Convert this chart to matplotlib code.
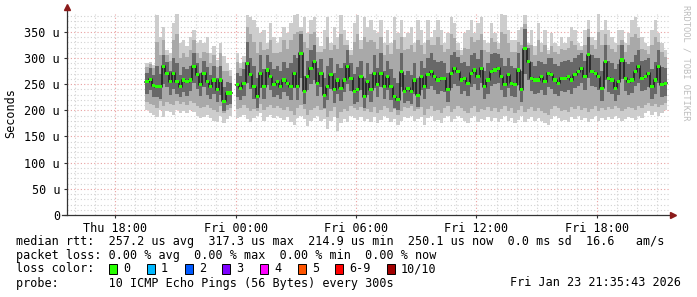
import numpy as np
import matplotlib
matplotlib.use("Agg")
import matplotlib.pyplot as plt
import matplotlib.patches as patches

# hours since Thu 00:00; one sample every 10 minutes
start_hour = 19.5
step_hours = 1 / 6.0
view_start = 15 + 35 / 60 + 43 / 3600
view_end = view_start + 30

# smoke bands in microseconds (sorted pings: min .. max), None = no data
ping_max = [290, 293, 287, 382, 341, 360, 315, 309, 366, 385, 328, 334, 322,
            341, 354, 328, 334, 328, 341, 309, 322, 296, 328, 303, 290, 277,
            None, 309, 290, 303, 382, 379, 373, 360, 347, 354, 328, 366, 341,
            328, 341, 360, 347, 366, 382, 385, 360, 379, 347, 373, 379, 341,
            322, 354, 379, 328, 360, 341, 382, 354, 334, 315, 366, 382, 334,
            379, 360, 373, 354, 347, 373, 328, 354, 328, 379, 347, 373, 341,
            347, 360, 328, 373, 354, 328, 373, 341, 354, 373, 354, 328, 347,
            379, 366, 328, 315, 347, 354, 373, 347, 366, 379, 334, 328, 366,
            347, 328, 385, 382, 354, 334, 334, 354, 360, 382, 328, 354, 322,
            366, 328, 354, 315, 347, 328, 322, 341, 328, 341, 360, 354, 328,
            322, 354, 373, 341, 334, 385, 354, 373, 354, 341, 328, 354, 354,
            328, 347, 373, 379, 360, 341, 328, 322, 354, 373, 347, 328, 315]
ping_hi = [282, 288, 280, 330, 305, 335, 305, 295, 335, 345, 300, 310, 302,
           315, 335, 310, 300, 312, 310, 290, 305, 282, 310, 275, 275, 265,
           None, 292, 280, 292, 360, 345, 330, 310, 330, 315, 318, 335, 310,
           310, 312, 335, 318, 335, 345, 350, 352, 330, 320, 345, 350, 312,
           312, 318, 340, 315, 325, 318, 345, 325, 325, 305, 330, 345, 318,
           340, 330, 335, 330, 318, 340, 305, 325, 308, 335, 318, 340, 315,
           318, 325, 312, 335, 325, 308, 335, 325, 325, 340, 325, 312, 318,
           345, 338, 315, 305, 320, 318, 340, 330, 335, 345, 315, 312, 338,
           330, 318, 350, 345, 328, 312, 312, 330, 325, 365, 325, 325, 305,
           335, 312, 325, 308, 322, 312, 308, 318, 315, 320, 332, 325, 315,
           315, 325, 355, 325, 318, 350, 325, 345, 325, 318, 312, 325, 335,
           312, 325, 340, 345, 338, 318, 315, 308, 325, 340, 330, 312, 302]
ping_qhi = [272, 280, 268, 285, 270, 305, 292, 275, 300, 290, 268, 282, 278,
            285, 310, 290, 272, 295, 282, 268, 285, 262, 285, 245, 255, 252,
            None, 272, 265, 278, 330, 300, 285, 262, 305, 278, 305, 292, 278,
            285, 275, 292, 280, 290, 305, 300, 345, 265, 295, 315, 325, 280,
            298, 262, 285, 300, 272, 288, 280, 290, 315, 290, 270, 282, 295,
            262, 290, 270, 305, 280, 310, 275, 295, 278, 262, 252, 310, 268,
            275, 268, 290, 262, 295, 280, 300, 310, 296, 292, 294, 290, 272,
            305, 312, 302, 290, 292, 284, 305, 310, 298, 315, 275, 290, 308,
            310, 308, 300, 285, 300, 285, 280, 310, 275, 355, 320, 292, 285,
            295, 292, 288, 300, 300, 288, 285, 292, 294, 296, 292, 300, 305,
            310, 295, 340, 305, 300, 300, 275, 325, 295, 290, 278, 288, 325,
            292, 288, 292, 305, 315, 294, 296, 300, 278, 292, 315, 282, 280]
median = [255, 259, 247, 245, 245, 284, 271, 255, 271, 255, 245, 258, 255,
          258, 284, 268, 249, 271, 255, 245, 258, 239, 258, 217, 233, 233,
          None, 249, 242, 252, 290, 268, 245, 226, 271, 245, 277, 264, 249,
          255, 245, 258, 252, 245, 271, 245, 309, 236, 264, 280, 293, 252,
          271, 229, 245, 268, 239, 258, 242, 258, 284, 261, 236, 239, 264,
          226, 255, 239, 271, 249, 271, 245, 264, 245, 226, 220, 274, 236,
          242, 236, 258, 229, 264, 245, 268, 274, 264, 258, 261, 261, 239,
          271, 280, 274, 258, 261, 252, 271, 277, 264, 280, 245, 258, 274,
          277, 280, 264, 249, 268, 252, 249, 277, 239, 318, 293, 261, 258,
          258, 264, 255, 271, 268, 258, 252, 261, 261, 264, 258, 268, 274,
          280, 264, 306, 274, 271, 264, 242, 293, 261, 258, 242, 255, 296,
          261, 255, 258, 274, 284, 261, 264, 271, 245, 258, 284, 249, 252]
ping_qlo = [232, 238, 225, 226, 222, 250, 245, 230, 240, 232, 226, 235, 228,
            236, 252, 240, 228, 245, 230, 222, 232, 215, 230, 198, 210, 212,
            None, 225, 220, 228, 252, 240, 222, 205, 242, 222, 248, 238, 226,
            230, 222, 235, 228, 220, 242, 220, 262, 212, 238, 250, 258, 228,
            245, 205, 220, 240, 214, 232, 218, 235, 250, 236, 212, 215, 238,
            204, 230, 215, 242, 225, 245, 222, 238, 220, 205, 200, 245, 214,
            218, 212, 232, 206, 238, 222, 240, 246, 238, 232, 236, 235, 215,
            242, 250, 246, 232, 236, 228, 244, 250, 238, 252, 222, 232, 246,
            250, 252, 238, 225, 242, 228, 225, 248, 216, 270, 258, 236, 232,
            234, 238, 230, 244, 240, 232, 228, 236, 235, 238, 232, 242, 246,
            252, 238, 262, 246, 244, 238, 218, 258, 235, 232, 218, 230, 260,
            236, 230, 234, 246, 252, 236, 238, 244, 222, 232, 252, 226, 228]
ping_lo = [215, 212, 210, 205, 218, 208, 215, 212, 210, 218, 212, 215, 210,
           218, 214, 208, 204, 206, 210, 205, 200, 196, 208, 195, 200, 205,
           None, 202, 205, 210, 204, 198, 203, 198, 212, 200, 206, 210, 204,
           208, 204, 200, 206, 198, 192, 204, 210, 202, 192, 200, 205, 208,
           200, 202, 188, 198, 206, 185, 196, 202, 198, 208, 204, 200, 206,
           198, 202, 196, 206, 194, 200, 208, 204, 196, 202, 192, 198, 206,
           204, 208, 198, 202, 206, 192, 203, 208, 198, 200, 195, 204, 208,
           196, 202, 208, 204, 198, 195, 204, 208, 196, 202, 200, 206, 198,
           204, 196, 202, 208, 198, 204, 195, 200, 208, 196, 202, 206, 198,
           204, 198, 195, 192, 202, 208, 204, 198, 200, 196, 206, 202, 208,
           200, 204, 196, 202, 208, 198, 204, 200, 206, 202, 208, 204, 198,
           202, 206, 204, 200, 208, 204, 210, 214, 208, 212, 206, 210, 214]
ping_min = [200, 195, 192, 188, 200, 188, 198, 196, 192, 200, 195, 198, 194,
            200, 197, 190, 185, 188, 192, 186, 180, 178, 190, 175, 183, 190,
            None, 185, 188, 192, 184, 178, 186, 190, 195, 180, 188, 192, 186,
            190, 185, 182, 188, 178, 172, 186, 190, 184, 170, 180, 186, 190,
            180, 184, 165, 180, 188, 160, 176, 184, 178, 190, 186, 182, 188,
            180, 184, 178, 188, 175, 182, 190, 186, 178, 184, 172, 180, 188,
            186, 190, 180, 184, 188, 172, 185, 190, 180, 182, 176, 186, 190,
            178, 184, 190, 186, 180, 176, 186, 190, 178, 184, 182, 188, 180,
            186, 178, 184, 190, 180, 186, 176, 182, 190, 178, 184, 188, 180,
            186, 180, 176, 172, 184, 190, 186, 180, 182, 178, 188, 184, 190,
            182, 186, 178, 184, 190, 180, 186, 182, 188, 184, 190, 186, 180,
            184, 188, 186, 182, 190, 186, 194, 198, 192, 196, 190, 194, 200]

y_ticks = [0, 50, 100, 150, 200, 250, 300, 350]
y_labels = ["0", "50 u", "100 u", "150 u", "200 u", "250 u", "300 u", "350 u"]
x_ticks = [18, 24, 30, 36, 42]
x_labels = ["Thu 18:00", "Fri 00:00", "Fri 06:00", "Fri 12:00", "Fri 18:00"]

loss_labels = ["0", "1", "2", "3", "4", "5", "6-9", "10/10"]
loss_colors = ["#26ff00", "#00b8ff", "#0059ff", "#7e00ff", "#ff00ff",
               "#ff5500", "#ff0000", "#a10000"]
loss_x = [109, 147, 185, 222, 260, 298, 335, 387]

MONO = "DejaVu Sans Mono"
FS = 8.5

p_max = np.array(ping_max, dtype=float)
p_hi = np.array(ping_hi, dtype=float)
p_qhi = np.array(ping_qhi, dtype=float)
med = np.array(median, dtype=float)
p_qlo = np.array(ping_qlo, dtype=float)
p_lo = np.array(ping_lo, dtype=float)
p_min = np.array(ping_min, dtype=float)
t = start_hour + step_hours * np.arange(len(med))

fig = plt.figure(figsize=(6.97, 2.97), dpi=100)
ax = fig.add_axes([67 / 697, 1 - 215 / 297, 602 / 697, 201 / 297])
ax.set_xlim(view_start, view_end)
ax.set_ylim(0, 384)

# grid: minor hourly / 10u, major 6h / 50u
for h in range(16, 46):
    c = "#e9a0a0" if h % 6 == 0 else "#d2d2d2"
    ax.axvline(h, color=c, lw=0.8, ls=(0, (1, 2)), zorder=1)
for v in range(10, 384, 10):
    c = "#e9a0a0" if v % 50 == 0 else "#d2d2d2"
    ax.axhline(v, color=c, lw=0.8, ls=(0, (1, 2)), zorder=1)

# smoke
shades = [("#cdcdcd", p_min, p_max), ("#a9a9a9", p_lo, p_hi),
          ("#686868", p_qlo, p_qhi)]
for col, lo, hi in shades:
    ax.bar(t, hi - lo, bottom=lo, width=step_hours, align="edge",
           color=col, linewidth=0, zorder=2)

# median: dark step line + loss coloured marks
ax.step(np.append(t, t[-1] + step_hours), np.append(med, med[-1]),
        where="post", color="#1a1a1a", lw=1.1, zorder=3)
ax.bar(t, 6, bottom=med - 3, width=step_hours, align="edge",
       color=loss_colors[0], linewidth=0, zorder=4)

# axes with arrows
for s in ax.spines.values():
    s.set_visible(False)
ax.plot([0, 0], [0, 1.02], transform=ax.transAxes, color="#333333",
        lw=0.9, clip_on=False, zorder=5)
ax.plot([-0.008, 1.004], [0, 0], transform=ax.transAxes, color="#333333",
        lw=0.9, clip_on=False, zorder=5)
ax.plot([0], [1.035], transform=ax.transAxes, marker="^", ms=4.5,
        color="#8b1a1a", clip_on=False, zorder=6)
ax.plot([1.006], [0], transform=ax.transAxes, marker=">", ms=4.5,
        color="#8b1a1a", clip_on=False, zorder=6)

ax.set_yticks(y_ticks)
ax.set_yticklabels(y_labels, family=MONO, fontsize=FS)
ax.set_xticks(x_ticks)
ax.set_xticklabels(x_labels, family=MONO, fontsize=FS)
ax.tick_params(axis="both", length=2, width=0.8, color="#333333", pad=3)
fig.text(11 / 697, 1 - 113 / 297, "Seconds", rotation=90,
         family=MONO, fontsize=FS, ha="center", va="center")

fig.text(686 / 697, 1 - 5 / 297, "RRDTOOL / TOBI OETIKER", rotation=-90,
         family=MONO, fontsize=6.3, color="#bdbdbd", ha="center", va="top")

# legend block
rows = [241, 255, 269, 283]
fig.text(16 / 697, 1 - rows[0] / 297,
         "median rtt:  257.2 us avg  317.3 us max  214.9 us min  "
         "250.1 us now  0.0 ms sd  16.6   am/s",
         family=MONO, fontsize=FS, va="center")
fig.text(16 / 697, 1 - rows[1] / 297,
         "packet loss: 0.00 % avg  0.00 % max  0.00 % min  0.00 % now",
         family=MONO, fontsize=FS, va="center")
fig.text(16 / 697, 1 - rows[2] / 297, "loss color:",
         family=MONO, fontsize=FS, va="center")
for lx, lab, col in zip(loss_x, loss_labels, loss_colors):
    fig.add_artist(patches.Rectangle((lx / 697, 1 - (rows[2] + 5) / 297),
                                     8 / 697, 10 / 297, facecolor=col,
                                     edgecolor="black", lw=0.7,
                                     transform=fig.transFigure))
    fig.text((lx + 14) / 697, 1 - rows[2] / 297, lab,
             family=MONO, fontsize=FS, va="center")
fig.text(16 / 697, 1 - rows[3] / 297,
         "probe:       10 ICMP Echo Pings (56 Bytes) every 300s",
         family=MONO, fontsize=FS, va="center")
fig.text(681 / 697, 1 - rows[3] / 297, "Fri Jan 23 21:35:43 2026",
         family=MONO, fontsize=FS, va="center", ha="right")

fig.savefig("out.png", dpi=100)
